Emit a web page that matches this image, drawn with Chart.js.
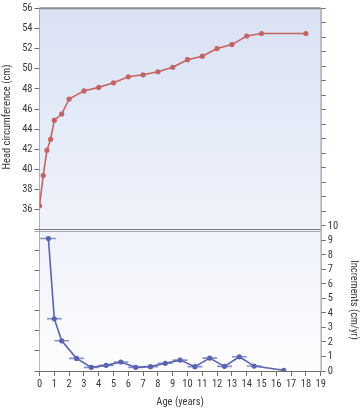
<!DOCTYPE html>
<html>
<head>
<meta charset="utf-8">
<script src="https://cdn.jsdelivr.net/npm/chart.js@4/dist/chart.umd.min.js"></script>
<style>
  html, body { margin: 0; padding: 0; background: #ffffff; }
  #wrap { width: 360px; height: 408px; position: relative; }
</style>
</head>
<body>
<div id="wrap"><canvas id="c" width="360" height="408"></canvas></div>
<script>
// ---- data ----
const ages = [0, 0.25, 0.5, 0.75, 1, 1.5, 2, 3, 4, 5, 6, 7, 8, 9, 10, 11, 12, 13, 14, 15, 18];
const headCm = [36.4, 39.4, 41.9, 43.0, 44.9, 45.5, 47.0, 47.8, 48.15, 48.6, 49.2, 49.4, 49.7, 50.15, 50.9, 51.25, 52.0, 52.4, 53.25, 53.5, 53.5];
const incAges = [0.6, 1, 1.5, 2.5, 3.5, 4.5, 5.5, 6.5, 7.5, 8.5, 9.5, 10.5, 11.5, 12.5, 13.5, 14.5, 16.5];
const increments = [9.13, 3.6, 2.08, 0.87, 0.25, 0.39, 0.62, 0.25, 0.3, 0.53, 0.75, 0.3, 0.89, 0.32, 0.98, 0.34, 0.05];
const barLo = [0.05, 0.5, 1, 2, 3, 4, 5, 6, 7, 8, 9, 10, 11, 12, 13, 14, null];
const barHi = [1.1, 1.5, 2, 3, 4, 5, 6, 7, 8, 9, 10, 11, 12, 13, 14, 15, null];
const xTicks = [0, 19];          // age axis range (years)
const leftRange = [20, 56];      // head circumference axis range
const leftLabelMin = 36;         // labels shown from this value up
const rightRange = [0, 25];      // increments axis range
const rightLabelMax = 10;        // labels shown up to this value
const dividerCm = 34;            // panel divider on left axis
const titles = { left: 'Head circumference (cm)', right: 'Increments (cm/yr)', bottom: 'Age (years)' };

// ---- build datasets ----
const headData = ages.map((a, i) => ({ x: a, y: headCm[i] }));
const incData = incAges.map((a, i) => ({ x: a, y: increments[i] }));
const barData = [];
incAges.forEach((a, i) => {
  if (barLo[i] === null) return;
  barData.push({ x: barLo[i], y: increments[i] });
  barData.push({ x: barHi[i], y: increments[i] });
  barData.push({ x: barHi[i], y: null });
});

const FONT = '"Roboto Condensed", "DejaVu Sans Condensed", "Liberation Sans", Arial, sans-serif';
const AXIS_COLOR = '#6e6e6e';
const TEXT_COLOR = '#3a3a3a';

const panelPlugin = {
  id: 'panels',
  beforeDatasetsDraw(chart) {
    const { ctx, chartArea: ca } = chart;
    const yL = chart.scales.yL;
    const dy = yL.getPixelForValue(dividerCm);
    ctx.save();
    let g = ctx.createLinearGradient(0, ca.top, 0, dy);
    g.addColorStop(0, '#d9e1f3');
    g.addColorStop(1, '#eff3fb');
    ctx.fillStyle = g;
    ctx.fillRect(ca.left, ca.top, ca.right - ca.left, dy - ca.top);
    g = ctx.createLinearGradient(0, dy, 0, ca.bottom);
    g.addColorStop(0, '#eff2fa');
    g.addColorStop(1, '#fdfdff');
    ctx.fillStyle = g;
    ctx.fillRect(ca.left, dy, ca.right - ca.left, ca.bottom - dy);
    // top border
    ctx.strokeStyle = '#8c8c8c';
    ctx.lineWidth = 2;
    ctx.beginPath();
    ctx.moveTo(ca.left, ca.top);
    ctx.lineTo(ca.right, ca.top);
    ctx.stroke();
    // divider (double line)
    ctx.lineWidth = 1;
    ctx.strokeStyle = '#7a7a7a';
    ctx.beginPath();
    ctx.moveTo(ca.left - 5, Math.round(dy) - 0.5);
    ctx.lineTo(ca.right, Math.round(dy) - 0.5);
    ctx.stroke();
    ctx.strokeStyle = '#a8a8a8';
    ctx.beginPath();
    ctx.moveTo(ca.left - 5, Math.round(dy) + 1.5);
    ctx.lineTo(ca.right, Math.round(dy) + 1.5);
    ctx.stroke();
    ctx.restore();
  },
  afterDraw(chart) {
    const { ctx, chartArea: ca } = chart;
    ctx.save();
    ctx.fillStyle = TEXT_COLOR;
    ctx.font = '10.5px ' + FONT;
    ctx.textAlign = 'center';
    ctx.textBaseline = 'middle';
    // left title
    ctx.save();
    ctx.translate(7, 117);
    ctx.rotate(-Math.PI / 2);
    ctx.fillText(titles.left, 0, 0);
    ctx.restore();
    // right title
    ctx.save();
    ctx.translate(354, 300);
    ctx.rotate(Math.PI / 2);
    ctx.fillText(titles.right, 0, 0);
    ctx.restore();
    // bottom title
    ctx.fillText(titles.bottom, (ca.left + ca.right) / 2, 402);
    ctx.restore();
  }
};

const tickFont = { family: FONT, size: 10.5 };

new Chart(document.getElementById('c'), {
  type: 'line',
  data: {
    datasets: [
      {
        data: headData, yAxisID: 'yL', borderColor: '#c46363', backgroundColor: '#c46363',
        borderWidth: 1.6, pointRadius: 2.6, pointHoverRadius: 2.6, pointBorderWidth: 0, order: 1
      },
      {
        data: incData, yAxisID: 'yR', borderColor: '#5a63b0', backgroundColor: '#5a63b0',
        borderWidth: 1.6, pointRadius: 2.6, pointHoverRadius: 2.6, pointBorderWidth: 0, order: 2
      },
      {
        data: barData, yAxisID: 'yR', borderColor: '#8990c9', backgroundColor: '#8990c9',
        borderWidth: 1.6, pointRadius: 0, spanGaps: false, order: 3
      }
    ]
  },
  options: {
    responsive: false,
    animation: false,
    events: [],
    layout: { padding: { top: 6, left: 0, right: 0, bottom: 0 } },
    plugins: { legend: { display: false }, tooltip: { enabled: false }, title: { display: false } },
    scales: {
      x: {
        type: 'linear', min: xTicks[0], max: xTicks[1],
        afterFit: s => { s.height = 37; },
        ticks: { stepSize: 1, color: TEXT_COLOR, font: tickFont, padding: 2, maxRotation: 0, autoSkip: false },
        grid: { drawOnChartArea: false, drawTicks: true, tickLength: 5, color: AXIS_COLOR },
        border: { color: AXIS_COLOR, width: 1 }
      },
      yL: {
        type: 'linear', position: 'left', min: leftRange[0], max: leftRange[1],
        afterFit: s => { s.width = 39.5; },
        ticks: {
          stepSize: 2, color: TEXT_COLOR, font: tickFont, padding: 2, autoSkip: false,
          callback: v => (v >= leftLabelMin ? String(v) : '')
        },
        grid: { drawOnChartArea: false, drawTicks: true, tickLength: 5, color: AXIS_COLOR },
        border: { color: AXIS_COLOR, width: 1.5 }
      },
      yR: {
        type: 'linear', position: 'right', min: rightRange[0], max: rightRange[1],
        afterFit: s => { s.width = 39.3; },
        ticks: {
          stepSize: 1, color: TEXT_COLOR, font: tickFont, padding: 2, autoSkip: false,
          callback: v => (v <= rightLabelMax ? String(v) : '')
        },
        grid: { drawOnChartArea: false, drawTicks: true, tickLength: 5, color: AXIS_COLOR },
        border: { color: AXIS_COLOR, width: 1.5 }
      }
    }
  },
  plugins: [panelPlugin]
});
</script>
</body>
</html>
